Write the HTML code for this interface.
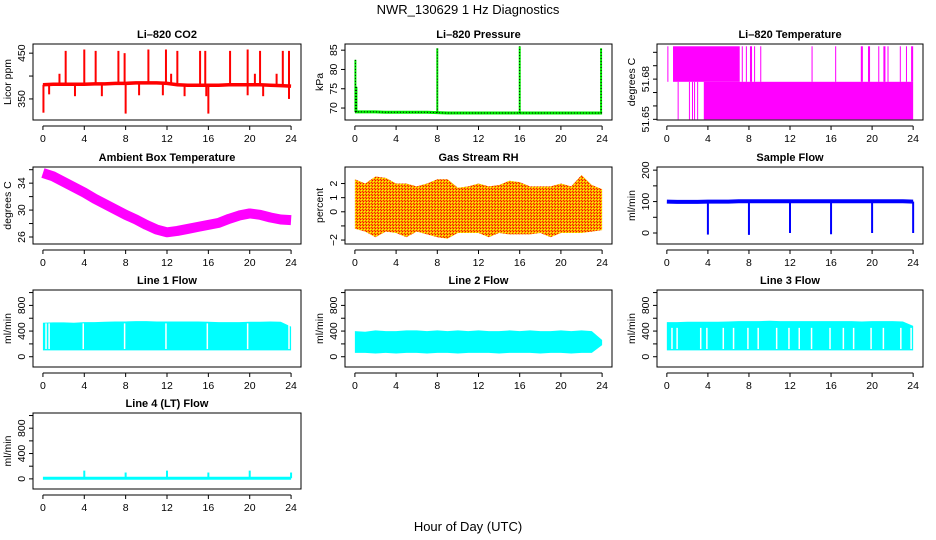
<!DOCTYPE html>
<html><head><meta charset="utf-8"><style>
body{margin:0;background:#fff}
svg{display:block;font-family:"Liberation Sans",Arial,sans-serif}
</style></head><body>
<svg id="c" width="936" height="540" xmlns="http://www.w3.org/2000/svg">
<defs>
<pattern id="rhpat" width="3" height="3" patternUnits="userSpaceOnUse">
<rect width="3" height="3" fill="#f7a400"/>
<rect x="0" y="0" width="1" height="1" fill="#ff0000"/>
<rect x="1" y="1" width="1" height="1" fill="#ffff00"/>
<rect x="2" y="2" width="1" height="1" fill="#ff2000"/>
</pattern>
</defs>
<text x="468" y="14" font-size="13" text-anchor="middle">NWR_130629  1 Hz Diagnostics</text>
<text x="468" y="531" font-size="13" text-anchor="middle">Hour of Day (UTC)</text>
</svg>
<script>
// ---- data ----
const hours = [0,1,2,3,4,5,6,7,8,9,10,11,12,13,14,15,16,17,18,19,20,21,22,23,24];
const xTicks = [0,4,8,12,16,20,24];
const co2Base = [381,382,382,382,382,383,383,384,384,385,385,385,384,381,380,380,380,380,381,381,381,381,380,379,378];
const co2SpikeT = [1.6,2.2,4.0,5.1,7.3,7.9,10.2,11.9,12.4,13.0,15.2,15.7,18.1,19.8,20.5,21.0,22.6,23.2,23.8];
const co2SpikeV = [405,455,458,455,455,450,458,458,405,455,455,455,455,458,405,455,405,455,455];
const co2DipT = [0.05,0.6,3.1,5.7,8.0,9.3,11.6,13.7,15.8,16.0,19.8,21.3,23.8];
const co2DipV = [320,360,356,356,318,358,358,356,356,318,358,356,350];
const presBase = [69,69,69,68.9,68.9,68.9,68.9,68.9,68.8,68.7,68.7,68.7,68.7,68.7,68.7,68.7,68.7,68.7,68.7,68.7,68.7,68.7,68.7,68.7,68.7];
const presSpikeT = [0.05,0.15,8.0,16.0,23.9];
const presSpikeV = [82.5,75.5,85.5,86,85.5];
const tempUpperT0 = [0.6,7.3,7.7,8.1,8.5,9.1,14.1,16.4,18.9,19.6,20.6,21.1,21.5,22.7,23.3,23.8];
const tempUpperT1 = [7.1,7.4,7.8,8.3,8.6,9.2,14.2,16.5,19.1,19.8,20.7,21.3,21.6,22.8,23.4,24.0];
const tempHigh = 51.7045, tempMid = 51.678, tempLow = 51.65;
const tempLowerStart = 3.6;
const tempLowLinesT = [1.1,2.2,2.5,2.7,3.0];
const ambCenter = [35.5,35,34.2,33.4,32.6,31.7,30.9,30.1,29.3,28.6,27.8,27.1,26.7,26.9,27.2,27.5,27.8,28.1,28.7,29.2,29.5,29.3,28.9,28.6,28.5];
const rhHi = [2.3,2.0,2.5,2.4,2.0,2.0,1.8,2.0,2.3,2.3,1.7,1.8,2.0,1.8,1.9,2.2,2.1,1.8,1.8,1.8,2.0,1.8,2.6,1.9,1.6];
const rhLo = [-1.2,-1.4,-1.8,-1.4,-1.5,-1.8,-1.4,-1.6,-1.8,-1.9,-1.5,-1.5,-1.5,-1.8,-1.5,-1.6,-1.6,-1.6,-1.5,-1.8,-1.5,-1.5,-1.5,-1.4,-1.3];
const flowBase = [100,99,99,99,100,100,100,101,101,101,101,101,101,101,101,101,101,101,101,101,101,101,101,101,100];
const flowDipT = [4,8,12,16,20,24];
const flowDipV = [-5,-6,0,-4,0,0];
const line1Lo = [100,100,100,100,100,100,100,100,100,100,100,100,100,100,100,100,100,100,100,100,100,100,100,100,100];
const line1Hi = [530,535,535,530,540,540,545,550,550,555,555,550,550,550,550,550,545,540,540,540,545,545,550,545,470];
const line1GapT = [0.3,0.6,3.9,7.9,11.9,15.9,19.8,23.8];
const line2Lo = [60,60,50,60,50,60,60,50,60,60,50,60,60,60,50,60,60,60,50,60,60,50,60,60,180];
const line2Hi = [400,390,410,400,400,410,410,400,410,400,410,400,410,400,400,410,400,410,400,400,410,400,410,400,260];
const line3Lo = [100,100,100,100,100,100,100,100,100,100,100,100,100,100,100,100,100,100,100,100,100,100,100,100,100];
const line3Hi = [540,540,545,545,545,545,550,555,555,555,560,555,555,555,555,555,555,555,555,550,555,555,555,550,480];
const line3GapT = [0.5,1.0,3.3,3.9,5.5,6.5,7.9,8.9,10.7,11.9,12.9,14.1,15.9,17.2,18.2,19.9,21.1,22.8,23.8];
const line4Base = [10,10,10,10,10,10,10,10,10,10,10,10,10,10,10,10,10,10,10,10,10,10,10,10,10];
const line4SpikeT = [4,8,12,16,20,24];
const line4SpikeV = [130,100,130,100,130,100];

// ---- layout ----
const NS = "http://www.w3.org/2000/svg";
const svg = document.getElementById('c');
const colL = [33,345,657], colR = [301,612,923];
const rowT = [44,167,290,413], rowB = [120,244,367,489];
function mk(tag, attrs, parent){const e=document.createElementNS(NS,tag);for(const k in attrs)e.setAttribute(k,attrs[k]);(parent||svg).appendChild(e);return e;}

function panel(col,row,name,title,ylab,ylim,yticks,ylabels){
  const L=colL[col],R=colR[col],T=rowT[row],B=rowB[row];
  const g=mk('g',{});
  
  
  const X=t=>L+(t+0.96)/25.92*(R-L);
  const Y=v=>B-(v-ylim[0])/(ylim[1]-ylim[0])*(B-T);
  const plot=mk('g',{},g);
  
  
  const box=mk('rect',{x:L,y:T,width:R-L,height:B-T,fill:'none',stroke:'#000','stroke-width':1},g);
  
  
  const tt=mk('text',{x:(L+R)/2,y:T-6,'font-size':11,'font-weight':'bold','text-anchor':'middle'},g);
  tt.textContent=title;
  
  
  const xa=mk('g',{},g);
  
  
  mk('line',{x1:X(0),x2:X(24),y1:B+6,y2:B+6,stroke:'#000'},xa);
  xTicks.forEach(t=>{mk('line',{x1:X(t),x2:X(t),y1:B+6,y2:B+10,stroke:'#000'},xa);
    const tx=mk('text',{x:X(t),y:B+22,'font-size':10.5,'text-anchor':'middle'},xa);tx.textContent=t;});
  const ya=mk('g',{},g);
  
  
  mk('line',{x1:L,x2:L,y1:Y(yticks[0]),y2:Y(yticks[yticks.length-1]),stroke:'#000'},ya);
  yticks.forEach((v,i)=>{mk('line',{x1:L-4,x2:L,y1:Y(v),y2:Y(v),stroke:'#000'},ya);
    if(ylabels[i]!==''){const tx=mk('text',{x:L-8,y:Y(v),'font-size':10.5,'text-anchor':'middle',transform:`rotate(-90 ${L-8} ${Y(v)})`},ya);tx.textContent=ylabels[i];}});
  const yl=mk('text',{x:L-22,y:(T+B)/2,'font-size':10.5,'text-anchor':'middle',transform:`rotate(-90 ${L-22} ${(T+B)/2})`},g);
  yl.textContent=ylab;
  
  
  return {X,Y,plot};
}
function poly(p,xs,ys,attrs){mk('polyline',Object.assign({points:xs.map((x,i)=>p.X(x)+','+p.Y(ys[i])).join(' '),fill:'none'},attrs),p.plot);}
function vline(p,t,v0,v1,attrs){mk('line',Object.assign({x1:p.X(t),x2:p.X(t),y1:p.Y(v0),y2:p.Y(v1)},attrs),p.plot);}
function band(p,lo,hi,attrs){
  const pts=hours.map((h,i)=>p.X(h)+','+p.Y(hi[i])).concat(hours.slice().reverse().map((h,j)=>p.X(h)+','+p.Y(lo[hours.length-1-j])));
  mk('polygon',Object.assign({points:pts.join(' ')},attrs),p.plot);
}

let p=panel(0,0,'co2','Li\u2013820 CO2','Licor ppm',[304,470],[350,400,450],['350','','450']);
poly(p,hours,co2Base,{stroke:'#ff0000','stroke-width':3.5});
co2SpikeT.forEach((t,i)=>vline(p,t,co2Base[Math.round(t)],co2SpikeV[i],{stroke:'#ff0000','stroke-width':2}));
co2DipT.forEach((t,i)=>vline(p,t,co2Base[Math.round(t)],co2DipV[i],{stroke:'#ff0000','stroke-width':2}));

p=panel(1,0,'pressure','Li\u2013820 Pressure','kPa',[66.9,86.6],[70,75,80,85],['70','75','80','85']);
poly(p,hours,presBase,{stroke:'#00ee00','stroke-width':3});
presSpikeT.forEach((t,i)=>vline(p,t,presBase[Math.round(t)],presSpikeV[i],{stroke:'#00ee00','stroke-width':2}));
poly(p,hours,presBase,{stroke:'#000','stroke-width':1,'stroke-dasharray':'1,2'});
presSpikeT.forEach((t,i)=>vline(p,t,presBase[Math.round(t)],presSpikeV[i],{stroke:'#000','stroke-width':1,'stroke-dasharray':'1,2'}));

p=panel(2,0,'li820-temperature','Li\u2013820 Temperature','degrees C',[51.6495,51.7062],[51.65,51.66,51.67,51.68,51.69,51.70],['51.65','','','51.68','','']);
tempUpperT0.forEach((t0,i)=>{const t1=tempUpperT1[i];
  mk('rect',{x:p.X(t0),y:p.Y(tempHigh),width:Math.max(1,p.X(t1)-p.X(t0)),height:p.Y(tempMid)-p.Y(tempHigh),fill:'#ff00ff'},p.plot);});
vline(p,0.1,tempHigh,tempMid,{stroke:'#ff00ff','stroke-width':1});
mk('rect',{x:p.X(tempLowerStart),y:p.Y(tempMid),width:p.X(24)-p.X(tempLowerStart),height:p.Y(tempLow)-p.Y(tempMid),fill:'#ff00ff'},p.plot);
tempLowLinesT.forEach(t=>vline(p,t,tempMid,tempLow,{stroke:'#ff00ff','stroke-width':1}));

p=panel(0,1,'ambient-box-temperature','Ambient Box Temperature','degrees C',[24.96,36.4],[26,28,30,32,34,36],['26','','30','','34','']);
poly(p,hours,ambCenter,{stroke:'#ff00ff','stroke-width':10,'stroke-linejoin':'round'});

p=panel(1,1,'gas-stream-rh','Gas Stream RH','percent',[-2.28,3.17],[-2,-1,0,1,2],['\u22122','','0','1','2']);
band(p,rhLo,rhHi,{fill:'url(#rhpat)'});

p=panel(2,1,'sample-flow','Sample Flow','ml/min',[-35,210],[0,50,100,150,200],['0','','100','','200']);
poly(p,hours,flowBase,{stroke:'#0000ff','stroke-width':4});
flowDipT.forEach((t,i)=>vline(p,t,flowBase[Math.round(t)],flowDipV[i],{stroke:'#0000ff','stroke-width':2}));

const flowTicks=[0,200,400,600,800,1000], flowLabels=['0','','400','','800',''];
p=panel(0,2,'line1-flow','Line 1 Flow','ml/min',[-160,1040],flowTicks,flowLabels);
band(p,line1Lo,line1Hi,{fill:'#00ffff'});
line1GapT.forEach(t=>vline(p,t,120,520,{stroke:'#fff','stroke-width':1.5}));
p=panel(1,2,'line2-flow','Line 2 Flow','ml/min',[-160,1040],flowTicks,flowLabels);
band(p,line2Lo,line2Hi,{fill:'#00ffff'});
p=panel(2,2,'line3-flow','Line 3 Flow','ml/min',[-160,1040],flowTicks,flowLabels);
band(p,line3Lo,line3Hi,{fill:'#00ffff'});
line3GapT.forEach(t=>vline(p,t,120,450,{stroke:'#fff','stroke-width':1.5}));
p=panel(0,3,'line4-flow','Line 4 (LT) Flow','ml/min',[-160,1040],flowTicks,flowLabels);
poly(p,hours,line4Base,{stroke:'#00ffff','stroke-width':3});
line4SpikeT.forEach((t,i)=>vline(p,t,line4Base[Math.round(t)],line4SpikeV[i],{stroke:'#00ffff','stroke-width':2}));
</script>
</body></html>
